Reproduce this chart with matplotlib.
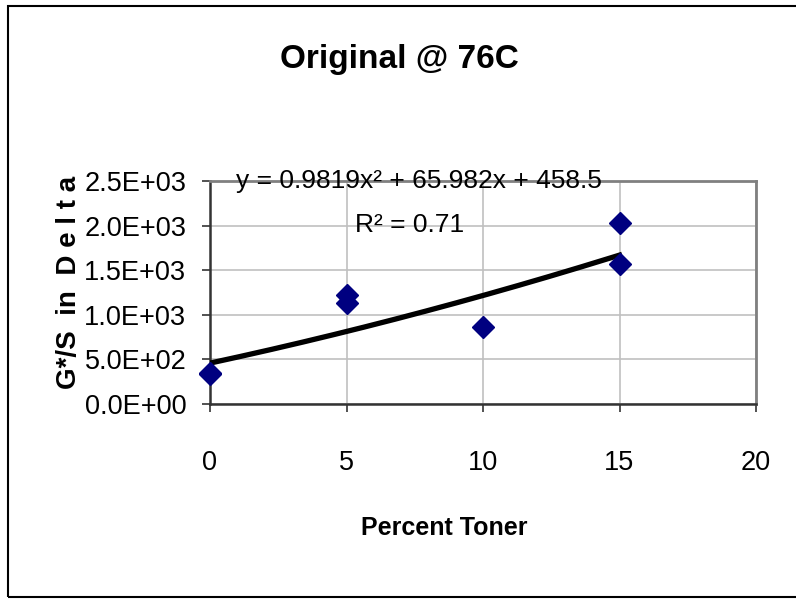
import numpy as np
import matplotlib.pyplot as plt
from matplotlib.patches import Rectangle

# data
toner = [0, 0, 5, 5, 10, 15, 15]
delta = [345, 335, 1222, 1132, 863, 2025, 1570]
# trendline coefficients printed on the chart (x^2, x, 1)
coef = [0.9819, 65.982, 458.5]
xticks = [0, 5, 10, 15, 20]
yticks = [0, 500, 1000, 1500, 2000, 2500]

plt.rcParams['font.family'] = ['Liberation Sans', 'DejaVu Sans']

W, H = 796, 599
fig = plt.figure(figsize=(W / 100, H / 100), dpi=100)
ax = fig.add_axes([210 / W, 1 - 404 / H, 546 / W, 223 / H])

def px(x, y):
    # pixel position -> figure fraction
    return x / W, 1 - y / H

# trendline
xt = np.linspace(0, 15, 200)
ax.plot(xt, np.polyval(coef, xt), color='black', lw=3.8, zorder=3)
ax.plot(toner, delta, 'D', color='#000080', ms=11, zorder=4, clip_on=False)

ax.set_xlim(0, 20)
ax.set_ylim(0, 2500)
ax.set_xticks(xticks)
ax.set_yticks(yticks)
ax.set_yticklabels(['%.1E' % v for v in yticks])
ax.grid(True, color='#c0c0c0', lw=1.2)
ax.set_axisbelow(True)

for s in ['top', 'right']:
    ax.spines[s].set_color('#808080')
    ax.spines[s].set_linewidth(2)
for s in ['left', 'bottom']:
    ax.spines[s].set_color('#333333')
    ax.spines[s].set_linewidth(1.8)

ax.tick_params(axis='both', direction='out', length=6, width=1.2, color='#333333', labelsize=19.5)
ax.tick_params(axis='x', pad=27)
ax.tick_params(axis='y', pad=11)

fig.text(*px(399, 68), 'Original @ 76C', ha='center', va='baseline', fontsize=24, fontweight='bold')
fig.text(*px(444, 535), 'Percent Toner', ha='center', va='baseline', fontsize=18, fontweight='bold')
fig.text(*px(69, 282), 'G*/S  in  D e l t a', ha='center', va='center', rotation=90,
         fontsize=20, fontweight='bold')
fig.text(*px(236, 188), 'y = 0.9819x\u00b2 + 65.982x + 458.5', ha='left', va='baseline', fontsize=19)
fig.text(*px(355, 232), 'R\u00b2 = 0.71', ha='left', va='baseline', fontsize=19)

# outer chart border
fig.patches.append(Rectangle(px(8, 597), 1.0, (597 - 6) / H, transform=fig.transFigure,
                             fill=False, edgecolor='black', lw=1.5))

fig.savefig('out.png', dpi=100)
